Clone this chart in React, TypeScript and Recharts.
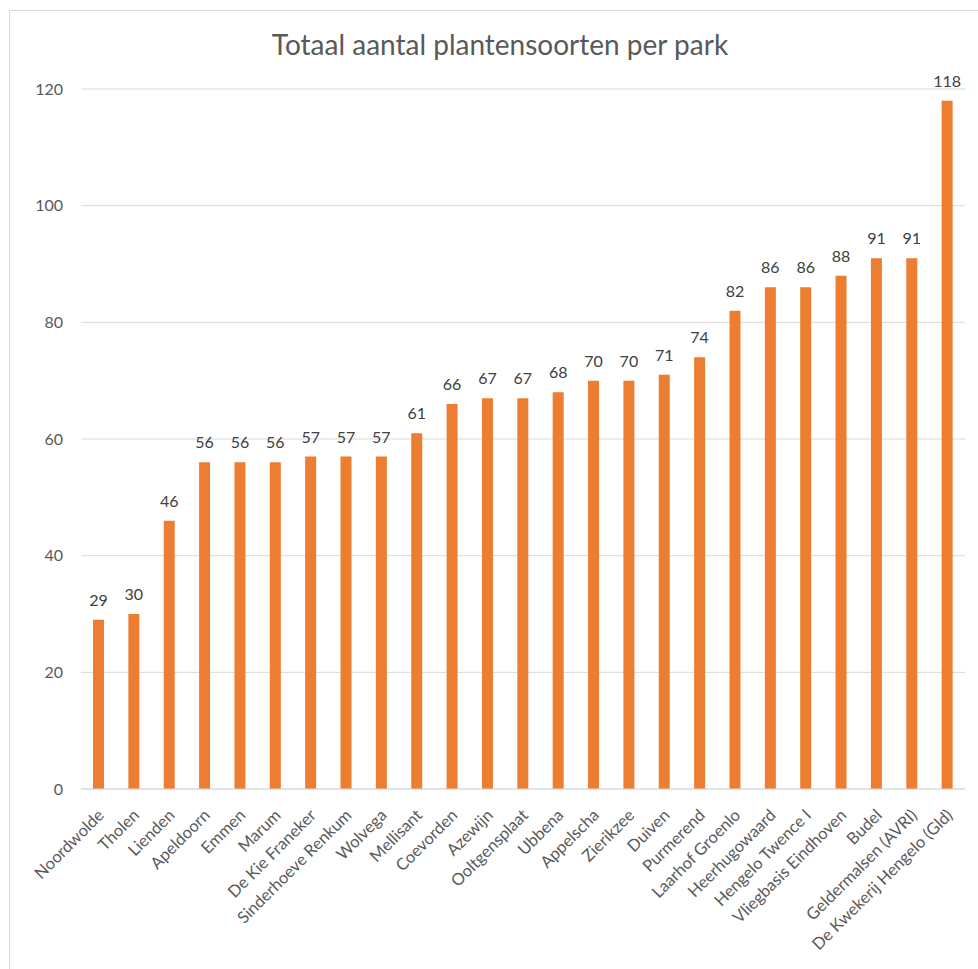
// Staafdiagram: totaal aantal plantensoorten per park
import { BarChart, Bar, XAxis, YAxis, CartesianGrid, LabelList } from "recharts";

const parks = [
  "Noordwolde",
  "Tholen",
  "Lienden",
  "Apeldoorn",
  "Emmen",
  "Marum",
  "De Kie Franeker",
  "Sinderhoeve Renkum",
  "Wolvega",
  "Mellisant",
  "Coevorden",
  "Azewijn",
  "Ooltgensplaat",
  "Ubbena",
  "Appelscha",
  "Zierikzee",
  "Duiven",
  "Purmerend",
  "Laarhof Groenlo",
  "Heerhugowaard",
  "Hengelo Twence I",
  "Vliegbasis Eindhoven",
  "Budel",
  "Geldermalsen (AVRI)",
  "De Kwekerij Hengelo (Gld)",
];

const soorten = [
  29, 30, 46, 56, 56, 56, 57, 57, 57, 61, 66, 67, 67, 68, 70, 70, 71, 74, 82, 86,
  86, 88, 91, 91, 118,
];

const yTicks = [0, 20, 40, 60, 80, 100, 120];

const data = parks.map((park, i) => ({ park, soorten: soorten[i] }));

const FONT = "Lato, 'Open Sans', sans-serif";

function ParkTick(props: any) {
  const { x, y, payload } = props;
  return (
    <g transform={`translate(${x - 2},${y + 11}) rotate(-45)`}>
      <text
        x={0}
        y={0}
        dy="0.71em"
        textAnchor="end"
        fill="#595959"
        fontSize={16.5}
        fontFamily={FONT}
      >
        {payload.value}
      </text>
    </g>
  );
}

export default function App() {
  return (
    <div
      style={{
        position: "absolute",
        left: 0,
        top: 0,
        width: 978,
        height: 969,
        overflow: "hidden",
        background: "#fff",
        fontFamily: FONT,
      }}
    >
      <div
        style={{
          position: "absolute",
          left: 9,
          top: 10,
          width: 1000,
          height: 1000,
          border: "1px solid #d9d9d9",
        }}
      />
      <div
        style={{
          position: "absolute",
          left: 0,
          width: 1000,
          top: 30,
          textAlign: "center",
          fontSize: 28,
          lineHeight: "28px",
          color: "#595959",
        }}
      >
        Totaal aantal plantensoorten per park
      </div>
      <div style={{ position: "absolute", left: 0, top: 0 }}>
        <BarChart
          width={978}
          height={969}
          data={data}
          margin={{ top: 89, right: 13, bottom: 0, left: 0 }}
          barSize={11}
        >
          <CartesianGrid vertical={false} stroke="#d9d9d9" />
          <XAxis
            dataKey="park"
            interval={0}
            height={180}
            axisLine={{ stroke: "#d9d9d9" }}
            tickLine={false}
            tick={<ParkTick />}
          />
          <YAxis
            width={81}
            domain={[0, 120]}
            ticks={yTicks}
            axisLine={false}
            tickLine={false}
            tickMargin={12}
            tick={{ fill: "#595959", fontSize: 16, fontFamily: FONT }}
          />
          <Bar dataKey="soorten" fill="#ED7D31" isAnimationActive={false}>
            <LabelList
              dataKey="soorten"
              position="top"
              offset={14}
              fill="#404040"
              fontSize={16}
              fontFamily={FONT}
            />
          </Bar>
        </BarChart>
      </div>
    </div>
  );
}
